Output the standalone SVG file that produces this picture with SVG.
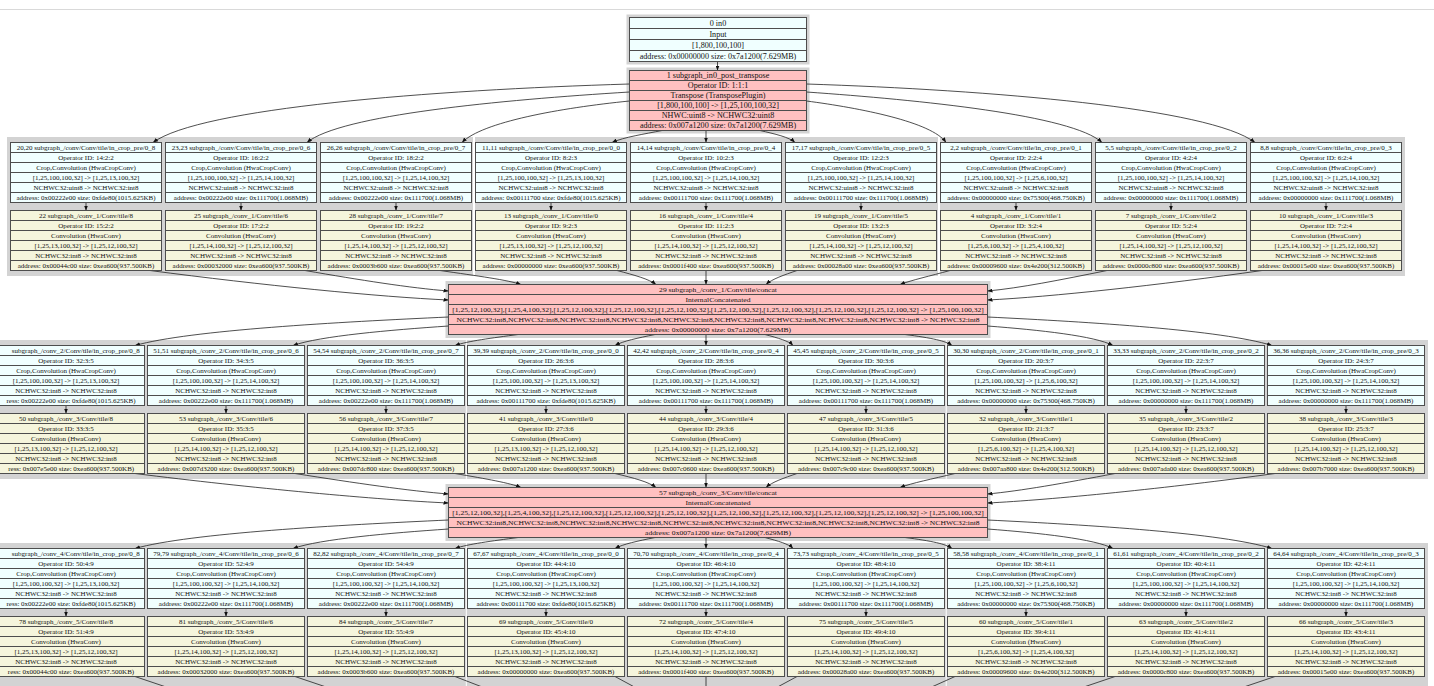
<svg xmlns="http://www.w3.org/2000/svg" xmlns:xlink="http://www.w3.org/1999/xlink" width="1434" height="686" viewBox="0 0 1434 686">
<style>
text{font-family:"Liberation Serif","Times New Roman",serif;font-size:7px;text-anchor:middle;fill:#111}
.big text{font-size:7.4px}
.cc text{font-size:7.1px}
.nd rect{stroke:#4d4d4d;stroke-width:1}
.sep{stroke:#4d4d4d;stroke-width:1;fill:none}
.cp rect{fill:#f0ffff}
.cv rect{fill:#f5f5dc}
.rd rect{fill:#ffc0c0}
.cl{fill:#d3d3d3}
.e path{fill:none;stroke:#222;stroke-width:0.8;marker-end:url(#ah)}
.e path.st{marker-end:none}
.ea{text-anchor:end}
</style>
<defs>
<marker id="ah" markerUnits="userSpaceOnUse" markerWidth="5" markerHeight="4" viewBox="0 0 10 8" refX="10" refY="4" orient="auto"><path d="M0,0L10,4L0,8z" fill="#111"/></marker>
<path id="s6a" class="sep" d="M0,10h151M0,20h151M0,30h151M0,40h151M0,50h151"/>
<path id="s6b" class="sep" d="M0,10h157M0,20h157M0,30h157M0,40h157M0,50h157"/>
<path id="s5c" class="sep" d="M0,10h539M0,20h539M0,30h539M0,40h539"/>
<path id="s6n" class="sep" d="M0,10h177M0,20h177M0,30h177M0,40h177M0,50h177"/>
<path id="s4n" class="sep" d="M0,11h177M0,22h177M0,33h177"/>
</defs>
<rect width="1434" height="686" fill="#fff"/>
<line x1="0" y1="9.5" x2="1434" y2="9.5" stroke="#d9d9d9" stroke-width="1"/>
<g id="clusters">
<rect class="cl" x="626.5" y="14.5" width="183" height="50"/>
<rect class="cl" x="626.5" y="67.5" width="183" height="66"/>
<rect class="cl" x="7" y="137" width="466" height="139"/>
<rect class="cl" x="475" y="137" width="463" height="139"/>
<rect class="cl" x="940" y="137" width="465" height="139"/>
<rect class="cl" x="445.5" y="281" width="545" height="57"/>
<rect class="cl" x="-20" y="340" width="485.8" height="139"/>
<rect class="cl" x="466.8" y="340" width="478.9" height="139"/>
<rect class="cl" x="946.7" y="340" width="481.3" height="139"/>
<rect class="cl" x="445.5" y="484" width="545" height="57"/>
<rect class="cl" x="-20" y="543" width="485.8" height="143"/>
<rect class="cl" x="466.8" y="543" width="478.9" height="143"/>
<rect class="cl" x="946.7" y="543" width="481.3" height="143"/>
</g>
<g id="connectors" class="e">
<path d="M717.5,61.5V70.5"/>
<path d="M629.5,84C430,90 200,108 153,142.5"/>
<path d="M629.5,92C500,100 340,115 307,142.5"/>
<path d="M629.5,101C560,108 482,122 462,142.5"/>
<path d="M662,130.5C645,134 624,137 612,142.5"/>
<path d="M706,130.5V142.5"/>
<path d="M760,130.5C775,134 789,137 795,142.5"/>
<path d="M806.5,101C860,108 932,122 946,142.5"/>
<path d="M806.5,92C920,100 1072,115 1102,142.5"/>
<path d="M806.5,84C990,90 1210,108 1255,142.5"/>
<path d="M86,202.5V210.5"/><path d="M241,202.5V210.5"/><path d="M396,202.5V210.5"/><path d="M551,202.5V210.5"/><path d="M706,202.5V210.5"/><path d="M861,202.5V210.5"/><path d="M1016,202.5V210.5"/><path d="M1171,202.5V210.5"/><path d="M1326,202.5V210.5"/>
<path d="M150,270.5C260,285 380,297 448.5,300"/>
<path d="M305,270.5C360,280 410,288 448.5,291"/>
<path d="M440,270.5C478,276 508,280 521,284.5"/>
<path d="M617,270.5C634,275 649,279 656,284.5"/>
<path d="M706,270.5V284.5"/>
<path d="M797,270.5C784,275 772,279 766,284.5"/>
<path d="M950,270.5C930,276 912,280 900,284.5"/>
<path d="M1107,270.5C1060,280 1020,288 987.5,291"/>
<path d="M1262,270.5C1160,285 1050,297 987.5,300"/>
<path d="M448.5,317C340,322 190,330 135,345.5"/>
<path d="M448.5,326C390,330 320,336 293,345.5"/>
<path d="M518,334.5C492,338 468,341 455,345.5"/>
<path d="M655,334.5C638,338 623,341 615,345.5"/>
<path d="M706,334.5V345.5"/>
<path d="M765,334.5C778,338 789,341 793,345.5"/>
<path d="M905,334.5C932,338 946,341 952,345.5"/>
<path d="M987.5,326C1040,330 1095,336 1113,345.5"/>
<path d="M987.5,317C1090,322 1222,330 1272,345.5"/>
<path d="M66,405.5V413.5"/><path d="M226,405.5V413.5"/><path d="M386,405.5V413.5"/><path d="M546,405.5V413.5"/><path d="M706,405.5V413.5"/><path d="M866,405.5V413.5"/><path d="M1026,405.5V413.5"/><path d="M1186,405.5V413.5"/><path d="M1346,405.5V413.5"/>
<path d="M135,473.5C250,488 380,500 448.5,503"/>
<path d="M295,473.5C355,483 410,491 448.5,494"/>
<path d="M455,473.5C487,479 510,483 521,487.5"/>
<path d="M615,473.5C634,478 649,482 656,487.5"/>
<path d="M706,473.5V487.5"/>
<path d="M797,473.5C784,478 772,482 766,487.5"/>
<path d="M955,473.5C932,479 912,483 900,487.5"/>
<path d="M1115,473.5C1065,483 1020,491 987.5,494"/>
<path d="M1275,473.5C1170,488 1050,500 987.5,503"/>
<path d="M448.5,520C340,525 190,533 135,548.5"/>
<path d="M448.5,529C390,533 320,539 293,548.5"/>
<path d="M518,537.5C492,541 468,544 455,548.5"/>
<path d="M655,537.5C638,541 623,544 615,548.5"/>
<path d="M706,537.5V548.5"/>
<path d="M765,537.5C778,541 789,544 793,548.5"/>
<path d="M905,537.5C932,541 946,544 952,548.5"/>
<path d="M987.5,529C1040,533 1095,539 1113,548.5"/>
<path d="M987.5,520C1090,525 1222,533 1272,548.5"/>
<path d="M66,608.5V616.5"/><path d="M226,608.5V616.5"/><path d="M386,608.5V616.5"/><path d="M546,608.5V616.5"/><path d="M706,608.5V616.5"/><path d="M866,608.5V616.5"/><path d="M1026,608.5V616.5"/><path d="M1186,608.5V616.5"/><path d="M1346,608.5V616.5"/>
<path class="st" d="M135,676.5L175,690"/><path class="st" d="M295,676.5L335,690"/><path class="st" d="M455,676.5L490,690"/><path class="st" d="M615,676.5L640,690"/><path class="st" d="M706,676.5V690"/><path class="st" d="M797,676.5L772,690"/><path class="st" d="M955,676.5L925,690"/><path class="st" d="M1115,676.5L1075,690"/><path class="st" d="M1275,676.5L1235,690"/>
</g>
<g id="n0" class="nd cp big" transform="translate(629.5,17.5)"><rect width="177" height="44"/><use href="#s4n"/><g transform="translate(88.5,0) scale(1.1,1)"><text x="0" y="8.3">0 in0</text><text x="0" y="19.3">Input</text><text x="0" y="30.3">[1,800,100,100]</text><text x="0" y="41.3">address: 0x00000000 size: 0x7a1200(7.629MB)</text></g></g>
<g id="n1" class="nd rd big" transform="translate(629.5,70.5)"><rect width="177" height="60"/><use href="#s6n"/><g transform="translate(88.5,0) scale(1.1,1)"><text x="0" y="7.7">1 subgraph_in0_post_transpose</text><text x="0" y="17.7">Operator ID: 1:1:1</text><text x="0" y="27.7">Transpose (TransposePlugin)</text><text x="0" y="37.7">[1,800,100,100] -&gt; [1,25,100,100,32]</text><text x="0" y="47.7">NHWC:uint8 -&gt; NCHWC32:uint8</text><text x="0" y="57.7">address: 0x007a1200 size: 0x7a1200(7.629MB)</text></g></g>
<g id="n20" class="nd cp" transform="translate(10.5,142.5)"><rect width="151" height="60"/><use href="#s6a"/><text x="75.5" y="7.5">20,20 subgraph_/conv/Conv/tile/in_crop_pre/0_8</text><text x="75.5" y="17.5">Operator ID: 14:2:2</text><text x="75.5" y="27.5">Crop,Convolution (HwaCropConv)</text><text x="75.5" y="37.5">[1,25,100,100,32] -&gt; [1,25,13,100,32]</text><text x="75.5" y="47.5">NCHWC32:uint8 -&gt; NCHWC32:int8</text><text x="75.5" y="57.5">address: 0x00222e00 size: 0xfde80(1015.625KB)</text></g>
<g id="n23" class="nd cp" transform="translate(165.5,142.5)"><rect width="151" height="60"/><use href="#s6a"/><text x="75.5" y="7.5">23,23 subgraph_/conv/Conv/tile/in_crop_pre/0_6</text><text x="75.5" y="17.5">Operator ID: 16:2:2</text><text x="75.5" y="27.5">Crop,Convolution (HwaCropConv)</text><text x="75.5" y="37.5">[1,25,100,100,32] -&gt; [1,25,14,100,32]</text><text x="75.5" y="47.5">NCHWC32:uint8 -&gt; NCHWC32:int8</text><text x="75.5" y="57.5">address: 0x00222e00 size: 0x111700(1.068MB)</text></g>
<g id="n26" class="nd cp" transform="translate(320.5,142.5)"><rect width="151" height="60"/><use href="#s6a"/><text x="75.5" y="7.5">26,26 subgraph_/conv/Conv/tile/in_crop_pre/0_7</text><text x="75.5" y="17.5">Operator ID: 18:2:2</text><text x="75.5" y="27.5">Crop,Convolution (HwaCropConv)</text><text x="75.5" y="37.5">[1,25,100,100,32] -&gt; [1,25,14,100,32]</text><text x="75.5" y="47.5">NCHWC32:uint8 -&gt; NCHWC32:int8</text><text x="75.5" y="57.5">address: 0x00222e00 size: 0x111700(1.068MB)</text></g>
<g id="n11" class="nd cp" transform="translate(475.5,142.5)"><rect width="151" height="60"/><use href="#s6a"/><text x="75.5" y="7.5">11,11 subgraph_/conv/Conv/tile/in_crop_pre/0_0</text><text x="75.5" y="17.5">Operator ID: 8:2:3</text><text x="75.5" y="27.5">Crop,Convolution (HwaCropConv)</text><text x="75.5" y="37.5">[1,25,100,100,32] -&gt; [1,25,13,100,32]</text><text x="75.5" y="47.5">NCHWC32:uint8 -&gt; NCHWC32:int8</text><text x="75.5" y="57.5">address: 0x00111700 size: 0xfde80(1015.625KB)</text></g>
<g id="n14" class="nd cp" transform="translate(630.5,142.5)"><rect width="151" height="60"/><use href="#s6a"/><text x="75.5" y="7.5">14,14 subgraph_/conv/Conv/tile/in_crop_pre/0_4</text><text x="75.5" y="17.5">Operator ID: 10:2:3</text><text x="75.5" y="27.5">Crop,Convolution (HwaCropConv)</text><text x="75.5" y="37.5">[1,25,100,100,32] -&gt; [1,25,14,100,32]</text><text x="75.5" y="47.5">NCHWC32:uint8 -&gt; NCHWC32:int8</text><text x="75.5" y="57.5">address: 0x00111700 size: 0x111700(1.068MB)</text></g>
<g id="n17" class="nd cp" transform="translate(785.5,142.5)"><rect width="151" height="60"/><use href="#s6a"/><text x="75.5" y="7.5">17,17 subgraph_/conv/Conv/tile/in_crop_pre/0_5</text><text x="75.5" y="17.5">Operator ID: 12:2:3</text><text x="75.5" y="27.5">Crop,Convolution (HwaCropConv)</text><text x="75.5" y="37.5">[1,25,100,100,32] -&gt; [1,25,14,100,32]</text><text x="75.5" y="47.5">NCHWC32:uint8 -&gt; NCHWC32:int8</text><text x="75.5" y="57.5">address: 0x00111700 size: 0x111700(1.068MB)</text></g>
<g id="n2" class="nd cp" transform="translate(940.5,142.5)"><rect width="151" height="60"/><use href="#s6a"/><text x="75.5" y="7.5">2,2 subgraph_/conv/Conv/tile/in_crop_pre/0_1</text><text x="75.5" y="17.5">Operator ID: 2:2:4</text><text x="75.5" y="27.5">Crop,Convolution (HwaCropConv)</text><text x="75.5" y="37.5">[1,25,100,100,32] -&gt; [1,25,6,100,32]</text><text x="75.5" y="47.5">NCHWC32:uint8 -&gt; NCHWC32:int8</text><text x="75.5" y="57.5">address: 0x00000000 size: 0x75300(468.750KB)</text></g>
<g id="n5" class="nd cp" transform="translate(1095.5,142.5)"><rect width="151" height="60"/><use href="#s6a"/><text x="75.5" y="7.5">5,5 subgraph_/conv/Conv/tile/in_crop_pre/0_2</text><text x="75.5" y="17.5">Operator ID: 4:2:4</text><text x="75.5" y="27.5">Crop,Convolution (HwaCropConv)</text><text x="75.5" y="37.5">[1,25,100,100,32] -&gt; [1,25,14,100,32]</text><text x="75.5" y="47.5">NCHWC32:uint8 -&gt; NCHWC32:int8</text><text x="75.5" y="57.5">address: 0x00000000 size: 0x111700(1.068MB)</text></g>
<g id="n8" class="nd cp" transform="translate(1250.5,142.5)"><rect width="151" height="60"/><use href="#s6a"/><text x="75.5" y="7.5">8,8 subgraph_/conv/Conv/tile/in_crop_pre/0_3</text><text x="75.5" y="17.5">Operator ID: 6:2:4</text><text x="75.5" y="27.5">Crop,Convolution (HwaCropConv)</text><text x="75.5" y="37.5">[1,25,100,100,32] -&gt; [1,25,14,100,32]</text><text x="75.5" y="47.5">NCHWC32:uint8 -&gt; NCHWC32:int8</text><text x="75.5" y="57.5">address: 0x00000000 size: 0x111700(1.068MB)</text></g>
<g id="n22" class="nd cv" transform="translate(10.5,210.5)"><rect width="151" height="60"/><use href="#s6a"/><text x="75.5" y="7.5">22 subgraph_/conv_1/Conv/tile/8</text><text x="75.5" y="17.5">Operator ID: 15:2:2</text><text x="75.5" y="27.5">Convolution (HwaConv)</text><text x="75.5" y="37.5">[1,25,13,100,32] -&gt; [1,25,12,100,32]</text><text x="75.5" y="47.5">NCHWC32:int8 -&gt; NCHWC32:int8</text><text x="75.5" y="57.5">address: 0x00044c00 size: 0xea600(937.500KB)</text></g>
<g id="n25" class="nd cv" transform="translate(165.5,210.5)"><rect width="151" height="60"/><use href="#s6a"/><text x="75.5" y="7.5">25 subgraph_/conv_1/Conv/tile/6</text><text x="75.5" y="17.5">Operator ID: 17:2:2</text><text x="75.5" y="27.5">Convolution (HwaConv)</text><text x="75.5" y="37.5">[1,25,14,100,32] -&gt; [1,25,12,100,32]</text><text x="75.5" y="47.5">NCHWC32:int8 -&gt; NCHWC32:int8</text><text x="75.5" y="57.5">address: 0x00032000 size: 0xea600(937.500KB)</text></g>
<g id="n28" class="nd cv" transform="translate(320.5,210.5)"><rect width="151" height="60"/><use href="#s6a"/><text x="75.5" y="7.5">28 subgraph_/conv_1/Conv/tile/7</text><text x="75.5" y="17.5">Operator ID: 19:2:2</text><text x="75.5" y="27.5">Convolution (HwaConv)</text><text x="75.5" y="37.5">[1,25,14,100,32] -&gt; [1,25,12,100,32]</text><text x="75.5" y="47.5">NCHWC32:int8 -&gt; NCHWC32:int8</text><text x="75.5" y="57.5">address: 0x0003b600 size: 0xea600(937.500KB)</text></g>
<g id="n13" class="nd cv" transform="translate(475.5,210.5)"><rect width="151" height="60"/><use href="#s6a"/><text x="75.5" y="7.5">13 subgraph_/conv_1/Conv/tile/0</text><text x="75.5" y="17.5">Operator ID: 9:2:3</text><text x="75.5" y="27.5">Convolution (HwaConv)</text><text x="75.5" y="37.5">[1,25,13,100,32] -&gt; [1,25,12,100,32]</text><text x="75.5" y="47.5">NCHWC32:int8 -&gt; NCHWC32:int8</text><text x="75.5" y="57.5">address: 0x00000000 size: 0xea600(937.500KB)</text></g>
<g id="n16" class="nd cv" transform="translate(630.5,210.5)"><rect width="151" height="60"/><use href="#s6a"/><text x="75.5" y="7.5">16 subgraph_/conv_1/Conv/tile/4</text><text x="75.5" y="17.5">Operator ID: 11:2:3</text><text x="75.5" y="27.5">Convolution (HwaConv)</text><text x="75.5" y="37.5">[1,25,14,100,32] -&gt; [1,25,12,100,32]</text><text x="75.5" y="47.5">NCHWC32:int8 -&gt; NCHWC32:int8</text><text x="75.5" y="57.5">address: 0x0001f400 size: 0xea600(937.500KB)</text></g>
<g id="n19" class="nd cv" transform="translate(785.5,210.5)"><rect width="151" height="60"/><use href="#s6a"/><text x="75.5" y="7.5">19 subgraph_/conv_1/Conv/tile/5</text><text x="75.5" y="17.5">Operator ID: 13:2:3</text><text x="75.5" y="27.5">Convolution (HwaConv)</text><text x="75.5" y="37.5">[1,25,14,100,32] -&gt; [1,25,12,100,32]</text><text x="75.5" y="47.5">NCHWC32:int8 -&gt; NCHWC32:int8</text><text x="75.5" y="57.5">address: 0x00028a00 size: 0xea600(937.500KB)</text></g>
<g id="n4" class="nd cv" transform="translate(940.5,210.5)"><rect width="151" height="60"/><use href="#s6a"/><text x="75.5" y="7.5">4 subgraph_/conv_1/Conv/tile/1</text><text x="75.5" y="17.5">Operator ID: 3:2:4</text><text x="75.5" y="27.5">Convolution (HwaConv)</text><text x="75.5" y="37.5">[1,25,6,100,32] -&gt; [1,25,4,100,32]</text><text x="75.5" y="47.5">NCHWC32:int8 -&gt; NCHWC32:int8</text><text x="75.5" y="57.5">address: 0x00009600 size: 0x4e200(312.500KB)</text></g>
<g id="n7" class="nd cv" transform="translate(1095.5,210.5)"><rect width="151" height="60"/><use href="#s6a"/><text x="75.5" y="7.5">7 subgraph_/conv_1/Conv/tile/2</text><text x="75.5" y="17.5">Operator ID: 5:2:4</text><text x="75.5" y="27.5">Convolution (HwaConv)</text><text x="75.5" y="37.5">[1,25,14,100,32] -&gt; [1,25,12,100,32]</text><text x="75.5" y="47.5">NCHWC32:int8 -&gt; NCHWC32:int8</text><text x="75.5" y="57.5">address: 0x0000c800 size: 0xea600(937.500KB)</text></g>
<g id="n10" class="nd cv" transform="translate(1250.5,210.5)"><rect width="151" height="60"/><use href="#s6a"/><text x="75.5" y="7.5">10 subgraph_/conv_1/Conv/tile/3</text><text x="75.5" y="17.5">Operator ID: 7:2:4</text><text x="75.5" y="27.5">Convolution (HwaConv)</text><text x="75.5" y="37.5">[1,25,14,100,32] -&gt; [1,25,12,100,32]</text><text x="75.5" y="47.5">NCHWC32:int8 -&gt; NCHWC32:int8</text><text x="75.5" y="57.5">address: 0x00015e00 size: 0xea600(937.500KB)</text></g>
<g id="n29" class="nd rd cc" transform="translate(448.5,284.5)"><rect width="539" height="50"/><use href="#s5c"/><g transform="translate(269.5,0) scale(1.07,1)"><text x="0" y="7.6">29 subgraph_/conv_1/Conv/tile/concat</text><text x="0" y="17.6">InternalConcatenated</text><text x="0" y="27.6">[1,25,12,100,32],[1,25,4,100,32],[1,25,12,100,32],[1,25,12,100,32],[1,25,12,100,32],[1,25,12,100,32],[1,25,12,100,32],[1,25,12,100,32],[1,25,12,100,32] -&gt; [1,25,100,100,32]</text><text x="0" y="37.6">NCHWC32:int8,NCHWC32:int8,NCHWC32:int8,NCHWC32:int8,NCHWC32:int8,NCHWC32:int8,NCHWC32:int8,NCHWC32:int8,NCHWC32:int8 -&gt; NCHWC32:int8</text><text x="0" y="47.6">address: 0x00000000 size: 0x7a1200(7.629MB)</text></g></g>
<g id="n48" class="nd cp" transform="translate(-12.5,345.5)"><rect width="157" height="60"/><use href="#s6b"/><text class="ea" x="152.3" y="7.5">subgraph_/conv_2/Conv/tile/in_crop_pre/0_8</text><text x="78.5" y="17.5">Operator ID: 32:3:5</text><text x="78.5" y="27.5">Crop,Convolution (HwaCropConv)</text><text x="78.5" y="37.5">[1,25,100,100,32] -&gt; [1,25,13,100,32]</text><text x="78.5" y="47.5">NCHWC32:int8 -&gt; NCHWC32:int8</text><text class="ea" x="148.1" y="57.5">ress: 0x00222e00 size: 0xfde80(1015.625KB)</text></g>
<g id="n51" class="nd cp" transform="translate(147.5,345.5)"><rect width="157" height="60"/><use href="#s6b"/><text x="78.5" y="7.5">51,51 subgraph_/conv_2/Conv/tile/in_crop_pre/0_6</text><text x="78.5" y="17.5">Operator ID: 34:3:5</text><text x="78.5" y="27.5">Crop,Convolution (HwaCropConv)</text><text x="78.5" y="37.5">[1,25,100,100,32] -&gt; [1,25,14,100,32]</text><text x="78.5" y="47.5">NCHWC32:int8 -&gt; NCHWC32:int8</text><text x="78.5" y="57.5">address: 0x00222e00 size: 0x111700(1.068MB)</text></g>
<g id="n54" class="nd cp" transform="translate(307.5,345.5)"><rect width="157" height="60"/><use href="#s6b"/><text x="78.5" y="7.5">54,54 subgraph_/conv_2/Conv/tile/in_crop_pre/0_7</text><text x="78.5" y="17.5">Operator ID: 36:3:5</text><text x="78.5" y="27.5">Crop,Convolution (HwaCropConv)</text><text x="78.5" y="37.5">[1,25,100,100,32] -&gt; [1,25,14,100,32]</text><text x="78.5" y="47.5">NCHWC32:int8 -&gt; NCHWC32:int8</text><text x="78.5" y="57.5">address: 0x00222e00 size: 0x111700(1.068MB)</text></g>
<g id="n39" class="nd cp" transform="translate(467.5,345.5)"><rect width="157" height="60"/><use href="#s6b"/><text x="78.5" y="7.5">39,39 subgraph_/conv_2/Conv/tile/in_crop_pre/0_0</text><text x="78.5" y="17.5">Operator ID: 26:3:6</text><text x="78.5" y="27.5">Crop,Convolution (HwaCropConv)</text><text x="78.5" y="37.5">[1,25,100,100,32] -&gt; [1,25,13,100,32]</text><text x="78.5" y="47.5">NCHWC32:int8 -&gt; NCHWC32:int8</text><text x="78.5" y="57.5">address: 0x00111700 size: 0xfde80(1015.625KB)</text></g>
<g id="n42" class="nd cp" transform="translate(627.5,345.5)"><rect width="157" height="60"/><use href="#s6b"/><text x="78.5" y="7.5">42,42 subgraph_/conv_2/Conv/tile/in_crop_pre/0_4</text><text x="78.5" y="17.5">Operator ID: 28:3:6</text><text x="78.5" y="27.5">Crop,Convolution (HwaCropConv)</text><text x="78.5" y="37.5">[1,25,100,100,32] -&gt; [1,25,14,100,32]</text><text x="78.5" y="47.5">NCHWC32:int8 -&gt; NCHWC32:int8</text><text x="78.5" y="57.5">address: 0x00111700 size: 0x111700(1.068MB)</text></g>
<g id="n45" class="nd cp" transform="translate(787.5,345.5)"><rect width="157" height="60"/><use href="#s6b"/><text x="78.5" y="7.5">45,45 subgraph_/conv_2/Conv/tile/in_crop_pre/0_5</text><text x="78.5" y="17.5">Operator ID: 30:3:6</text><text x="78.5" y="27.5">Crop,Convolution (HwaCropConv)</text><text x="78.5" y="37.5">[1,25,100,100,32] -&gt; [1,25,14,100,32]</text><text x="78.5" y="47.5">NCHWC32:int8 -&gt; NCHWC32:int8</text><text x="78.5" y="57.5">address: 0x00111700 size: 0x111700(1.068MB)</text></g>
<g id="n30" class="nd cp" transform="translate(947.5,345.5)"><rect width="157" height="60"/><use href="#s6b"/><text x="78.5" y="7.5">30,30 subgraph_/conv_2/Conv/tile/in_crop_pre/0_1</text><text x="78.5" y="17.5">Operator ID: 20:3:7</text><text x="78.5" y="27.5">Crop,Convolution (HwaCropConv)</text><text x="78.5" y="37.5">[1,25,100,100,32] -&gt; [1,25,6,100,32]</text><text x="78.5" y="47.5">NCHWC32:int8 -&gt; NCHWC32:int8</text><text x="78.5" y="57.5">address: 0x00000000 size: 0x75300(468.750KB)</text></g>
<g id="n33" class="nd cp" transform="translate(1107.5,345.5)"><rect width="157" height="60"/><use href="#s6b"/><text x="78.5" y="7.5">33,33 subgraph_/conv_2/Conv/tile/in_crop_pre/0_2</text><text x="78.5" y="17.5">Operator ID: 22:3:7</text><text x="78.5" y="27.5">Crop,Convolution (HwaCropConv)</text><text x="78.5" y="37.5">[1,25,100,100,32] -&gt; [1,25,14,100,32]</text><text x="78.5" y="47.5">NCHWC32:int8 -&gt; NCHWC32:int8</text><text x="78.5" y="57.5">address: 0x00000000 size: 0x111700(1.068MB)</text></g>
<g id="n36" class="nd cp" transform="translate(1267.5,345.5)"><rect width="157" height="60"/><use href="#s6b"/><text x="78.5" y="7.5">36,36 subgraph_/conv_2/Conv/tile/in_crop_pre/0_3</text><text x="78.5" y="17.5">Operator ID: 24:3:7</text><text x="78.5" y="27.5">Crop,Convolution (HwaCropConv)</text><text x="78.5" y="37.5">[1,25,100,100,32] -&gt; [1,25,14,100,32]</text><text x="78.5" y="47.5">NCHWC32:int8 -&gt; NCHWC32:int8</text><text x="78.5" y="57.5">address: 0x00000000 size: 0x111700(1.068MB)</text></g>
<g id="n50" class="nd cv" transform="translate(-12.5,413.5)"><rect width="157" height="60"/><use href="#s6b"/><text x="78.5" y="7.5">50 subgraph_/conv_3/Conv/tile/8</text><text x="78.5" y="17.5">Operator ID: 33:3:5</text><text x="78.5" y="27.5">Convolution (HwaConv)</text><text x="78.5" y="37.5">[1,25,13,100,32] -&gt; [1,25,12,100,32]</text><text x="78.5" y="47.5">NCHWC32:int8 -&gt; NCHWC32:int8</text><text class="ea" x="146.7" y="57.5">ress: 0x007e5e00 size: 0xea600(937.500KB)</text></g>
<g id="n53" class="nd cv" transform="translate(147.5,413.5)"><rect width="157" height="60"/><use href="#s6b"/><text x="78.5" y="7.5">53 subgraph_/conv_3/Conv/tile/6</text><text x="78.5" y="17.5">Operator ID: 35:3:5</text><text x="78.5" y="27.5">Convolution (HwaConv)</text><text x="78.5" y="37.5">[1,25,14,100,32] -&gt; [1,25,12,100,32]</text><text x="78.5" y="47.5">NCHWC32:int8 -&gt; NCHWC32:int8</text><text x="78.5" y="57.5">address: 0x007d3200 size: 0xea600(937.500KB)</text></g>
<g id="n56" class="nd cv" transform="translate(307.5,413.5)"><rect width="157" height="60"/><use href="#s6b"/><text x="78.5" y="7.5">56 subgraph_/conv_3/Conv/tile/7</text><text x="78.5" y="17.5">Operator ID: 37:3:5</text><text x="78.5" y="27.5">Convolution (HwaConv)</text><text x="78.5" y="37.5">[1,25,14,100,32] -&gt; [1,25,12,100,32]</text><text x="78.5" y="47.5">NCHWC32:int8 -&gt; NCHWC32:int8</text><text x="78.5" y="57.5">address: 0x007dc800 size: 0xea600(937.500KB)</text></g>
<g id="n41" class="nd cv" transform="translate(467.5,413.5)"><rect width="157" height="60"/><use href="#s6b"/><text x="78.5" y="7.5">41 subgraph_/conv_3/Conv/tile/0</text><text x="78.5" y="17.5">Operator ID: 27:3:6</text><text x="78.5" y="27.5">Convolution (HwaConv)</text><text x="78.5" y="37.5">[1,25,13,100,32] -&gt; [1,25,12,100,32]</text><text x="78.5" y="47.5">NCHWC32:int8 -&gt; NCHWC32:int8</text><text x="78.5" y="57.5">address: 0x007a1200 size: 0xea600(937.500KB)</text></g>
<g id="n44" class="nd cv" transform="translate(627.5,413.5)"><rect width="157" height="60"/><use href="#s6b"/><text x="78.5" y="7.5">44 subgraph_/conv_3/Conv/tile/4</text><text x="78.5" y="17.5">Operator ID: 29:3:6</text><text x="78.5" y="27.5">Convolution (HwaConv)</text><text x="78.5" y="37.5">[1,25,14,100,32] -&gt; [1,25,12,100,32]</text><text x="78.5" y="47.5">NCHWC32:int8 -&gt; NCHWC32:int8</text><text x="78.5" y="57.5">address: 0x007c0600 size: 0xea600(937.500KB)</text></g>
<g id="n47" class="nd cv" transform="translate(787.5,413.5)"><rect width="157" height="60"/><use href="#s6b"/><text x="78.5" y="7.5">47 subgraph_/conv_3/Conv/tile/5</text><text x="78.5" y="17.5">Operator ID: 31:3:6</text><text x="78.5" y="27.5">Convolution (HwaConv)</text><text x="78.5" y="37.5">[1,25,14,100,32] -&gt; [1,25,12,100,32]</text><text x="78.5" y="47.5">NCHWC32:int8 -&gt; NCHWC32:int8</text><text x="78.5" y="57.5">address: 0x007c9c00 size: 0xea600(937.500KB)</text></g>
<g id="n32" class="nd cv" transform="translate(947.5,413.5)"><rect width="157" height="60"/><use href="#s6b"/><text x="78.5" y="7.5">32 subgraph_/conv_3/Conv/tile/1</text><text x="78.5" y="17.5">Operator ID: 21:3:7</text><text x="78.5" y="27.5">Convolution (HwaConv)</text><text x="78.5" y="37.5">[1,25,6,100,32] -&gt; [1,25,4,100,32]</text><text x="78.5" y="47.5">NCHWC32:int8 -&gt; NCHWC32:int8</text><text x="78.5" y="57.5">address: 0x007aa800 size: 0x4e200(312.500KB)</text></g>
<g id="n35" class="nd cv" transform="translate(1107.5,413.5)"><rect width="157" height="60"/><use href="#s6b"/><text x="78.5" y="7.5">35 subgraph_/conv_3/Conv/tile/2</text><text x="78.5" y="17.5">Operator ID: 23:3:7</text><text x="78.5" y="27.5">Convolution (HwaConv)</text><text x="78.5" y="37.5">[1,25,14,100,32] -&gt; [1,25,12,100,32]</text><text x="78.5" y="47.5">NCHWC32:int8 -&gt; NCHWC32:int8</text><text x="78.5" y="57.5">address: 0x007ada00 size: 0xea600(937.500KB)</text></g>
<g id="n38" class="nd cv" transform="translate(1267.5,413.5)"><rect width="157" height="60"/><use href="#s6b"/><text x="78.5" y="7.5">38 subgraph_/conv_3/Conv/tile/3</text><text x="78.5" y="17.5">Operator ID: 25:3:7</text><text x="78.5" y="27.5">Convolution (HwaConv)</text><text x="78.5" y="37.5">[1,25,14,100,32] -&gt; [1,25,12,100,32]</text><text x="78.5" y="47.5">NCHWC32:int8 -&gt; NCHWC32:int8</text><text x="78.5" y="57.5">address: 0x007b7000 size: 0xea600(937.500KB)</text></g>
<g id="n57" class="nd rd cc" transform="translate(448.5,487.5)"><rect width="539" height="50"/><use href="#s5c"/><g transform="translate(269.5,0) scale(1.07,1)"><text x="0" y="7.6">57 subgraph_/conv_3/Conv/tile/concat</text><text x="0" y="17.6">InternalConcatenated</text><text x="0" y="27.6">[1,25,12,100,32],[1,25,4,100,32],[1,25,12,100,32],[1,25,12,100,32],[1,25,12,100,32],[1,25,12,100,32],[1,25,12,100,32],[1,25,12,100,32],[1,25,12,100,32] -&gt; [1,25,100,100,32]</text><text x="0" y="37.6">NCHWC32:int8,NCHWC32:int8,NCHWC32:int8,NCHWC32:int8,NCHWC32:int8,NCHWC32:int8,NCHWC32:int8,NCHWC32:int8,NCHWC32:int8 -&gt; NCHWC32:int8</text><text x="0" y="47.6">address: 0x007a1200 size: 0x7a1200(7.629MB)</text></g></g>
<g id="n76" class="nd cp" transform="translate(-12.5,548.5)"><rect width="157" height="60"/><use href="#s6b"/><text class="ea" x="152.3" y="7.5">subgraph_/conv_4/Conv/tile/in_crop_pre/0_8</text><text x="78.5" y="17.5">Operator ID: 50:4:9</text><text x="78.5" y="27.5">Crop,Convolution (HwaCropConv)</text><text x="78.5" y="37.5">[1,25,100,100,32] -&gt; [1,25,13,100,32]</text><text x="78.5" y="47.5">NCHWC32:int8 -&gt; NCHWC32:int8</text><text class="ea" x="148.1" y="57.5">ress: 0x00222e00 size: 0xfde80(1015.625KB)</text></g>
<g id="n79" class="nd cp" transform="translate(147.5,548.5)"><rect width="157" height="60"/><use href="#s6b"/><text x="78.5" y="7.5">79,79 subgraph_/conv_4/Conv/tile/in_crop_pre/0_6</text><text x="78.5" y="17.5">Operator ID: 52:4:9</text><text x="78.5" y="27.5">Crop,Convolution (HwaCropConv)</text><text x="78.5" y="37.5">[1,25,100,100,32] -&gt; [1,25,14,100,32]</text><text x="78.5" y="47.5">NCHWC32:int8 -&gt; NCHWC32:int8</text><text x="78.5" y="57.5">address: 0x00222e00 size: 0x111700(1.068MB)</text></g>
<g id="n82" class="nd cp" transform="translate(307.5,548.5)"><rect width="157" height="60"/><use href="#s6b"/><text x="78.5" y="7.5">82,82 subgraph_/conv_4/Conv/tile/in_crop_pre/0_7</text><text x="78.5" y="17.5">Operator ID: 54:4:9</text><text x="78.5" y="27.5">Crop,Convolution (HwaCropConv)</text><text x="78.5" y="37.5">[1,25,100,100,32] -&gt; [1,25,14,100,32]</text><text x="78.5" y="47.5">NCHWC32:int8 -&gt; NCHWC32:int8</text><text x="78.5" y="57.5">address: 0x00222e00 size: 0x111700(1.068MB)</text></g>
<g id="n67" class="nd cp" transform="translate(467.5,548.5)"><rect width="157" height="60"/><use href="#s6b"/><text x="78.5" y="7.5">67,67 subgraph_/conv_4/Conv/tile/in_crop_pre/0_0</text><text x="78.5" y="17.5">Operator ID: 44:4:10</text><text x="78.5" y="27.5">Crop,Convolution (HwaCropConv)</text><text x="78.5" y="37.5">[1,25,100,100,32] -&gt; [1,25,13,100,32]</text><text x="78.5" y="47.5">NCHWC32:int8 -&gt; NCHWC32:int8</text><text x="78.5" y="57.5">address: 0x00111700 size: 0xfde80(1015.625KB)</text></g>
<g id="n70" class="nd cp" transform="translate(627.5,548.5)"><rect width="157" height="60"/><use href="#s6b"/><text x="78.5" y="7.5">70,70 subgraph_/conv_4/Conv/tile/in_crop_pre/0_4</text><text x="78.5" y="17.5">Operator ID: 46:4:10</text><text x="78.5" y="27.5">Crop,Convolution (HwaCropConv)</text><text x="78.5" y="37.5">[1,25,100,100,32] -&gt; [1,25,14,100,32]</text><text x="78.5" y="47.5">NCHWC32:int8 -&gt; NCHWC32:int8</text><text x="78.5" y="57.5">address: 0x00111700 size: 0x111700(1.068MB)</text></g>
<g id="n73" class="nd cp" transform="translate(787.5,548.5)"><rect width="157" height="60"/><use href="#s6b"/><text x="78.5" y="7.5">73,73 subgraph_/conv_4/Conv/tile/in_crop_pre/0_5</text><text x="78.5" y="17.5">Operator ID: 48:4:10</text><text x="78.5" y="27.5">Crop,Convolution (HwaCropConv)</text><text x="78.5" y="37.5">[1,25,100,100,32] -&gt; [1,25,14,100,32]</text><text x="78.5" y="47.5">NCHWC32:int8 -&gt; NCHWC32:int8</text><text x="78.5" y="57.5">address: 0x00111700 size: 0x111700(1.068MB)</text></g>
<g id="n58" class="nd cp" transform="translate(947.5,548.5)"><rect width="157" height="60"/><use href="#s6b"/><text x="78.5" y="7.5">58,58 subgraph_/conv_4/Conv/tile/in_crop_pre/0_1</text><text x="78.5" y="17.5">Operator ID: 38:4:11</text><text x="78.5" y="27.5">Crop,Convolution (HwaCropConv)</text><text x="78.5" y="37.5">[1,25,100,100,32] -&gt; [1,25,6,100,32]</text><text x="78.5" y="47.5">NCHWC32:int8 -&gt; NCHWC32:int8</text><text x="78.5" y="57.5">address: 0x00000000 size: 0x75300(468.750KB)</text></g>
<g id="n61" class="nd cp" transform="translate(1107.5,548.5)"><rect width="157" height="60"/><use href="#s6b"/><text x="78.5" y="7.5">61,61 subgraph_/conv_4/Conv/tile/in_crop_pre/0_2</text><text x="78.5" y="17.5">Operator ID: 40:4:11</text><text x="78.5" y="27.5">Crop,Convolution (HwaCropConv)</text><text x="78.5" y="37.5">[1,25,100,100,32] -&gt; [1,25,14,100,32]</text><text x="78.5" y="47.5">NCHWC32:int8 -&gt; NCHWC32:int8</text><text x="78.5" y="57.5">address: 0x00000000 size: 0x111700(1.068MB)</text></g>
<g id="n64" class="nd cp" transform="translate(1267.5,548.5)"><rect width="157" height="60"/><use href="#s6b"/><text x="78.5" y="7.5">64,64 subgraph_/conv_4/Conv/tile/in_crop_pre/0_3</text><text x="78.5" y="17.5">Operator ID: 42:4:11</text><text x="78.5" y="27.5">Crop,Convolution (HwaCropConv)</text><text x="78.5" y="37.5">[1,25,100,100,32] -&gt; [1,25,14,100,32]</text><text x="78.5" y="47.5">NCHWC32:int8 -&gt; NCHWC32:int8</text><text x="78.5" y="57.5">address: 0x00000000 size: 0x111700(1.068MB)</text></g>
<g id="n78" class="nd cv" transform="translate(-12.5,616.5)"><rect width="157" height="60"/><use href="#s6b"/><text x="78.5" y="7.5">78 subgraph_/conv_5/Conv/tile/8</text><text x="78.5" y="17.5">Operator ID: 51:4:9</text><text x="78.5" y="27.5">Convolution (HwaConv)</text><text x="78.5" y="37.5">[1,25,13,100,32] -&gt; [1,25,12,100,32]</text><text x="78.5" y="47.5">NCHWC32:int8 -&gt; NCHWC32:int8</text><text class="ea" x="146.7" y="57.5">ress: 0x00044c00 size: 0xea600(937.500KB)</text></g>
<g id="n81" class="nd cv" transform="translate(147.5,616.5)"><rect width="157" height="60"/><use href="#s6b"/><text x="78.5" y="7.5">81 subgraph_/conv_5/Conv/tile/6</text><text x="78.5" y="17.5">Operator ID: 53:4:9</text><text x="78.5" y="27.5">Convolution (HwaConv)</text><text x="78.5" y="37.5">[1,25,14,100,32] -&gt; [1,25,12,100,32]</text><text x="78.5" y="47.5">NCHWC32:int8 -&gt; NCHWC32:int8</text><text x="78.5" y="57.5">address: 0x00032000 size: 0xea600(937.500KB)</text></g>
<g id="n84" class="nd cv" transform="translate(307.5,616.5)"><rect width="157" height="60"/><use href="#s6b"/><text x="78.5" y="7.5">84 subgraph_/conv_5/Conv/tile/7</text><text x="78.5" y="17.5">Operator ID: 55:4:9</text><text x="78.5" y="27.5">Convolution (HwaConv)</text><text x="78.5" y="37.5">[1,25,14,100,32] -&gt; [1,25,12,100,32]</text><text x="78.5" y="47.5">NCHWC32:int8 -&gt; NCHWC32:int8</text><text x="78.5" y="57.5">address: 0x0003b600 size: 0xea600(937.500KB)</text></g>
<g id="n69" class="nd cv" transform="translate(467.5,616.5)"><rect width="157" height="60"/><use href="#s6b"/><text x="78.5" y="7.5">69 subgraph_/conv_5/Conv/tile/0</text><text x="78.5" y="17.5">Operator ID: 45:4:10</text><text x="78.5" y="27.5">Convolution (HwaConv)</text><text x="78.5" y="37.5">[1,25,13,100,32] -&gt; [1,25,12,100,32]</text><text x="78.5" y="47.5">NCHWC32:int8 -&gt; NCHWC32:int8</text><text x="78.5" y="57.5">address: 0x00000000 size: 0xea600(937.500KB)</text></g>
<g id="n72" class="nd cv" transform="translate(627.5,616.5)"><rect width="157" height="60"/><use href="#s6b"/><text x="78.5" y="7.5">72 subgraph_/conv_5/Conv/tile/4</text><text x="78.5" y="17.5">Operator ID: 47:4:10</text><text x="78.5" y="27.5">Convolution (HwaConv)</text><text x="78.5" y="37.5">[1,25,14,100,32] -&gt; [1,25,12,100,32]</text><text x="78.5" y="47.5">NCHWC32:int8 -&gt; NCHWC32:int8</text><text x="78.5" y="57.5">address: 0x0001f400 size: 0xea600(937.500KB)</text></g>
<g id="n75" class="nd cv" transform="translate(787.5,616.5)"><rect width="157" height="60"/><use href="#s6b"/><text x="78.5" y="7.5">75 subgraph_/conv_5/Conv/tile/5</text><text x="78.5" y="17.5">Operator ID: 49:4:10</text><text x="78.5" y="27.5">Convolution (HwaConv)</text><text x="78.5" y="37.5">[1,25,14,100,32] -&gt; [1,25,12,100,32]</text><text x="78.5" y="47.5">NCHWC32:int8 -&gt; NCHWC32:int8</text><text x="78.5" y="57.5">address: 0x00028a00 size: 0xea600(937.500KB)</text></g>
<g id="n60" class="nd cv" transform="translate(947.5,616.5)"><rect width="157" height="60"/><use href="#s6b"/><text x="78.5" y="7.5">60 subgraph_/conv_5/Conv/tile/1</text><text x="78.5" y="17.5">Operator ID: 39:4:11</text><text x="78.5" y="27.5">Convolution (HwaConv)</text><text x="78.5" y="37.5">[1,25,6,100,32] -&gt; [1,25,4,100,32]</text><text x="78.5" y="47.5">NCHWC32:int8 -&gt; NCHWC32:int8</text><text x="78.5" y="57.5">address: 0x00009600 size: 0x4e200(312.500KB)</text></g>
<g id="n63" class="nd cv" transform="translate(1107.5,616.5)"><rect width="157" height="60"/><use href="#s6b"/><text x="78.5" y="7.5">63 subgraph_/conv_5/Conv/tile/2</text><text x="78.5" y="17.5">Operator ID: 41:4:11</text><text x="78.5" y="27.5">Convolution (HwaConv)</text><text x="78.5" y="37.5">[1,25,14,100,32] -&gt; [1,25,12,100,32]</text><text x="78.5" y="47.5">NCHWC32:int8 -&gt; NCHWC32:int8</text><text x="78.5" y="57.5">address: 0x0000c800 size: 0xea600(937.500KB)</text></g>
<g id="n66" class="nd cv" transform="translate(1267.5,616.5)"><rect width="157" height="60"/><use href="#s6b"/><text x="78.5" y="7.5">66 subgraph_/conv_5/Conv/tile/3</text><text x="78.5" y="17.5">Operator ID: 43:4:11</text><text x="78.5" y="27.5">Convolution (HwaConv)</text><text x="78.5" y="37.5">[1,25,14,100,32] -&gt; [1,25,12,100,32]</text><text x="78.5" y="47.5">NCHWC32:int8 -&gt; NCHWC32:int8</text><text x="78.5" y="57.5">address: 0x00015e00 size: 0xea600(937.500KB)</text></g>
</svg>
